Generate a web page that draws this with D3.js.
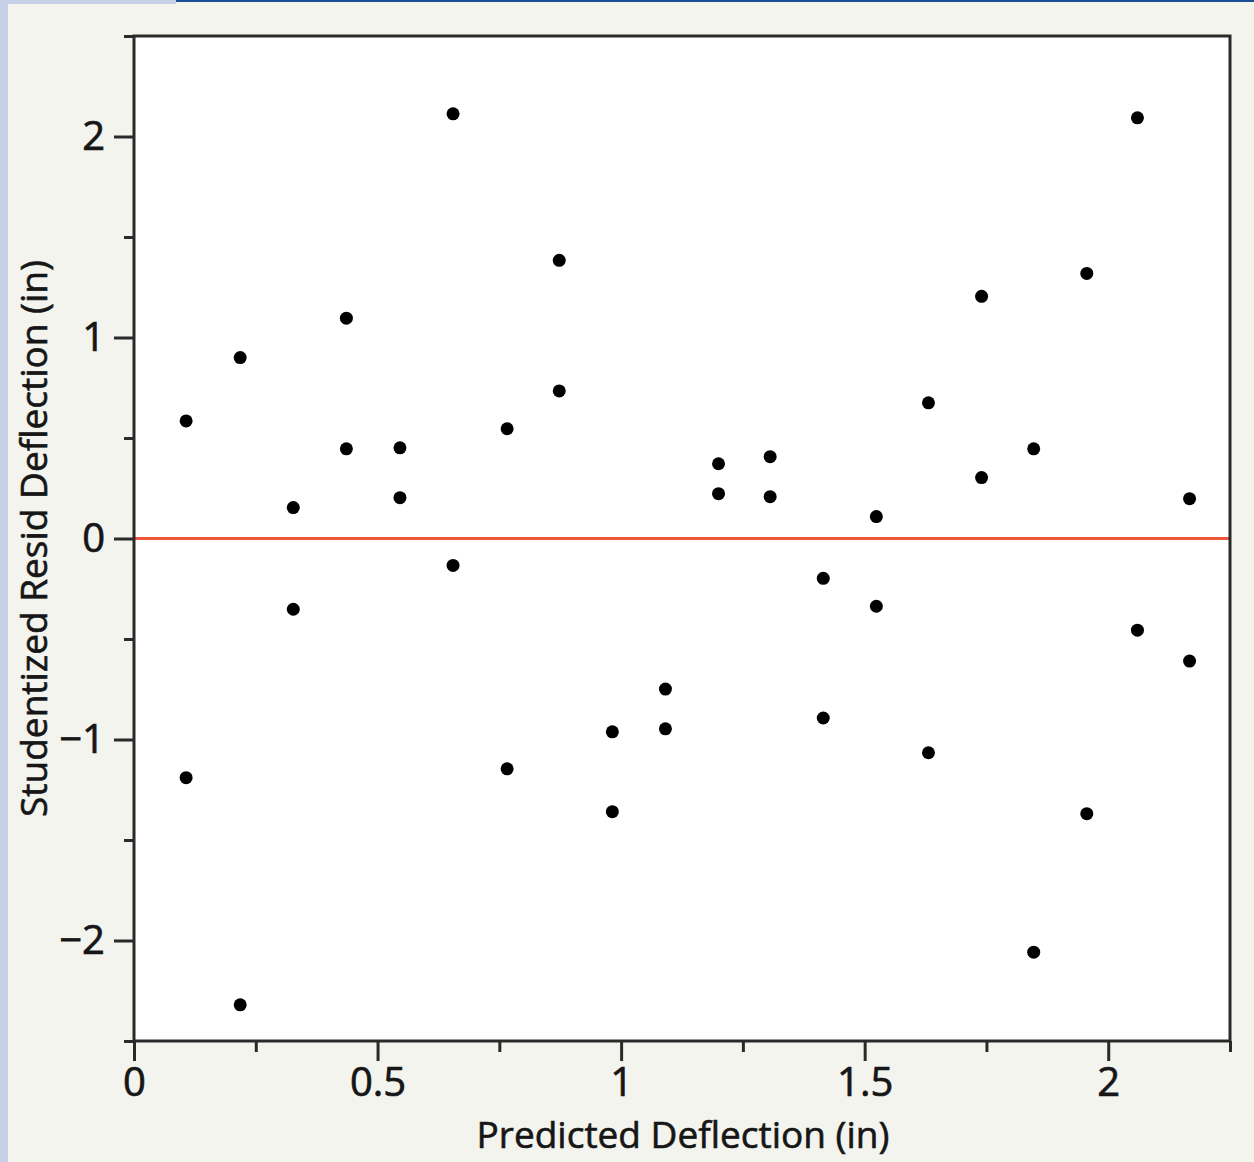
<!DOCTYPE html>
<html>
<head>
<meta charset="utf-8">
<script src="https://cdn.jsdelivr.net/npm/d3@7"></script>
<style>
  html, body { margin: 0; padding: 0; background: #f4f4ef; }
  svg { display: block; }
</style>
</head>
<body>
<div id="chart"></div>
<script>
// Vorhergesagte Durchbiegung vs. studentisierte Residuen
const xPred = [
  0.107, 0.107, 0.218, 0.218, 0.327, 0.327, 0.436, 0.436, 0.546, 0.546,
  0.655, 0.655, 0.766, 0.766, 0.873, 0.873, 0.982, 0.982, 1.091, 1.091,
  1.200, 1.200, 1.306, 1.306, 1.415, 1.415, 1.524, 1.524, 1.631, 1.631,
  1.740, 1.740, 1.847, 1.847, 1.956, 1.956, 2.060, 2.060, 2.167, 2.167
];
const yResid = [
  0.585, -1.19, 0.90, -2.32, 0.154, -0.352, 1.096, 0.446, 0.451, 0.203,
  2.113, -0.134, 0.546, -1.146, 1.384, 0.734, -0.962, -1.359, -0.749, -0.947,
  0.372, 0.223, 0.407, 0.208, -0.198, -0.893, 0.109, -0.337, 0.675, -1.066,
  1.205, 0.303, 0.446, -2.058, 1.319, -1.369, 2.093, -0.456, 0.198, -0.610
];
const xMajor = [0, 0.5, 1, 1.5, 2];
const xMinor = [0.25, 0.75, 1.25, 1.75, 2.25];
const yMajor = [-2, -1, 0, 1, 2];
const yMinor = [-2.5, -1.5, -0.5, 0.5, 1.5, 2.5];

const W = 1254, H = 1162;
const mLeft = 134, mRight = 1230, mTop = 36, mBottom = 1041;

const svg = d3.select("#chart").append("svg")
  .attr("width", W).attr("height", H)
  .style("font-family", "'Open Sans', sans-serif");

svg.append("rect").attr("width", W).attr("height", H).attr("fill", "#f4f4ef");
// Fensterrand links und oben
svg.append("rect").attr("x", 0).attr("y", 0).attr("width", 8).attr("height", H).attr("fill", "#c6d1e9");
svg.append("rect").attr("x", 0).attr("y", 0).attr("width", 176).attr("height", 4).attr("fill", "#c6d1e9");
svg.append("rect").attr("x", 176).attr("y", 0).attr("width", W - 176).attr("height", 2).attr("fill", "#1d4f96");

const x = d3.scaleLinear().domain([0, 2.25]).range([mLeft, mRight]);
const y = d3.scaleLinear().domain([-2.5, 2.5]).range([mBottom, mTop]);

svg.append("rect")
  .attr("x", mLeft).attr("y", mTop)
  .attr("width", mRight - mLeft).attr("height", mBottom - mTop)
  .attr("fill", "#fff");

// Nulllinie
svg.append("line")
  .attr("x1", x(0)).attr("x2", x(2.25))
  .attr("y1", y(0)).attr("y2", y(0))
  .attr("stroke", "#ee5639").attr("stroke-width", 3);

// Punkte
svg.append("g").selectAll("circle")
  .data(xPred.map((v, i) => [v, yResid[i]]))
  .join("circle")
  .attr("cx", d => x(d[0]))
  .attr("cy", d => y(d[1]))
  .attr("r", 6.5)
  .attr("fill", "#000");

// Rahmen
svg.append("rect")
  .attr("x", mLeft).attr("y", mTop)
  .attr("width", mRight - mLeft).attr("height", mBottom - mTop)
  .attr("fill", "none").attr("stroke", "#2a2a2a").attr("stroke-width", 3);

const fmt = d3.format("~g");

function styleAxis(g) {
  g.select(".domain").remove();
  g.selectAll(".tick line").attr("stroke", "#2a2a2a").attr("stroke-width", 3);
  g.selectAll(".tick text")
    .attr("fill", "#161616")
    .attr("stroke", "#161616")
    .attr("stroke-width", 0.7)
    .attr("font-size", 40)
    .attr("font-family", "'Open Sans', sans-serif");
}

svg.append("g").attr("transform", `translate(0,${mBottom})`)
  .call(d3.axisBottom(x).tickValues(xMinor).tickSize(11).tickFormat(""))
  .call(styleAxis);
svg.append("g").attr("transform", `translate(0,${mBottom})`)
  .call(d3.axisBottom(x).tickValues(xMajor).tickSize(20).tickPadding(7).tickFormat(fmt))
  .call(styleAxis);

svg.append("g").attr("transform", `translate(${mLeft},0)`)
  .call(d3.axisLeft(y).tickValues(yMinor).tickSize(10).tickFormat(""))
  .call(styleAxis);
svg.append("g").attr("transform", `translate(${mLeft},0)`)
  .call(d3.axisLeft(y).tickValues(yMajor).tickSize(20).tickPadding(9).tickFormat(fmt))
  .call(styleAxis);

// Achsentitel
svg.append("text")
  .attr("x", 683)
  .attr("y", 1148)
  .attr("text-anchor", "middle")
  .attr("font-size", 37)
  .attr("fill", "#161616")
  .attr("stroke", "#161616")
  .attr("stroke-width", 0.6)
  .text("Predicted Deflection (in)");

svg.append("text")
  .attr("transform", `translate(47,${(mTop + mBottom) / 2}) rotate(-90)`)
  .attr("text-anchor", "middle")
  .attr("font-size", 37)
  .attr("fill", "#161616")
  .attr("stroke", "#161616")
  .attr("stroke-width", 0.6)
  .text("Studentized Resid Deflection (in)");
</script>
</body>
</html>
